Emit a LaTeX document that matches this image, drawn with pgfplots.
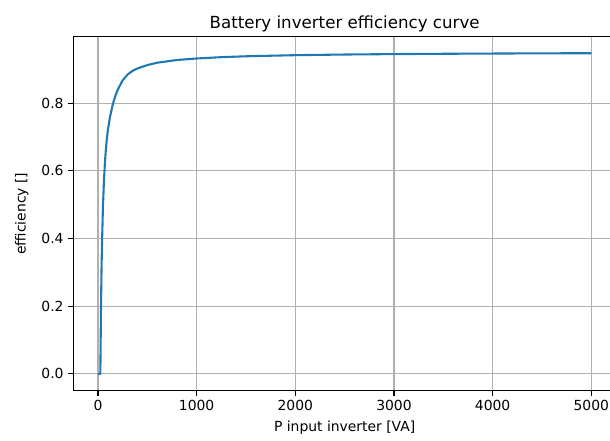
\documentclass[border=0pt]{standalone}
\usepackage{fontspec}
\setmainfont{DejaVu Sans}
\usepackage{pgfplots}
\pgfplotsset{compat=1.18}

\definecolor{mplblue}{HTML}{1F77B4}
\definecolor{mplgrid}{HTML}{B0B0B0}

\begin{document}
\begin{tikzpicture}
\begin{axis}[
    scale only axis,
    width=390.7pt, height=254.9pt,
    xmin=-250, xmax=5250,
    ymin=-0.05, ymax=0.997,
    xtick={0,1000,2000,3000,4000,5000},
    ytick={0,0.2,0.4,0.6,0.8},
    scaled x ticks=false,
    /pgf/number format/assume math mode=true,
    xticklabel style={/pgf/number format/1000 sep={}},
    yticklabel style={/pgf/number format/fixed, /pgf/number format/fixed zerofill, /pgf/number format/precision=1},
    tick label style={font=\fontsize{10}{12}\selectfont},
    label style={font=\fontsize{10}{12}\selectfont},
    tick align=outside,
    major tick length=3.5pt,
    tick style={black, line width=0.8pt},
    xtick pos=bottom, ytick pos=left,
    axis line style={black, line width=0.8pt},
    grid=major,
    major grid style={mplgrid, line width=0.8pt},
    title={Battery inverter efficiency curve},
    title style={font=\fontsize{12}{14}\selectfont, at={(axis description cs:0.5,1)}, anchor=base},
    xlabel={P input inverter [VA]},
    xlabel style={at={(axis description cs:0.5,-0.114)}, anchor=base},
    ylabel={efficiency []},
    ylabel style={at={(axis description cs:-0.088,0.5)}, anchor=base},
]
\addplot[mplblue, line width=1.5pt, line join=round] coordinates {
(0,0) (20,0) (24,0) (25,0.032) (30,0.185) (35,0.295) (40,0.377)
(50,0.492) (60,0.569) (70,0.623) (80,0.664) (90,0.696) (100,0.720)
(120,0.757) (150,0.797) (175,0.821) (200,0.840) (250,0.868)
(300,0.885) (350,0.896) (400,0.903) (500,0.913) (600,0.920)
(700,0.924) (800,0.928) (1000,0.9325) (1250,0.9364) (1500,0.939)
(2000,0.9423) (2500,0.9442) (3000,0.9455) (3500,0.9464)
(4000,0.9471) (4500,0.9477) (5000,0.9481)
};
\end{axis}
\pgfresetboundingbox
\path[use as bounding box] (current axis.south west) ++(-52.8pt,-35.5pt) rectangle ++(439.2pt,316.8pt);
\end{tikzpicture}
\end{document}
